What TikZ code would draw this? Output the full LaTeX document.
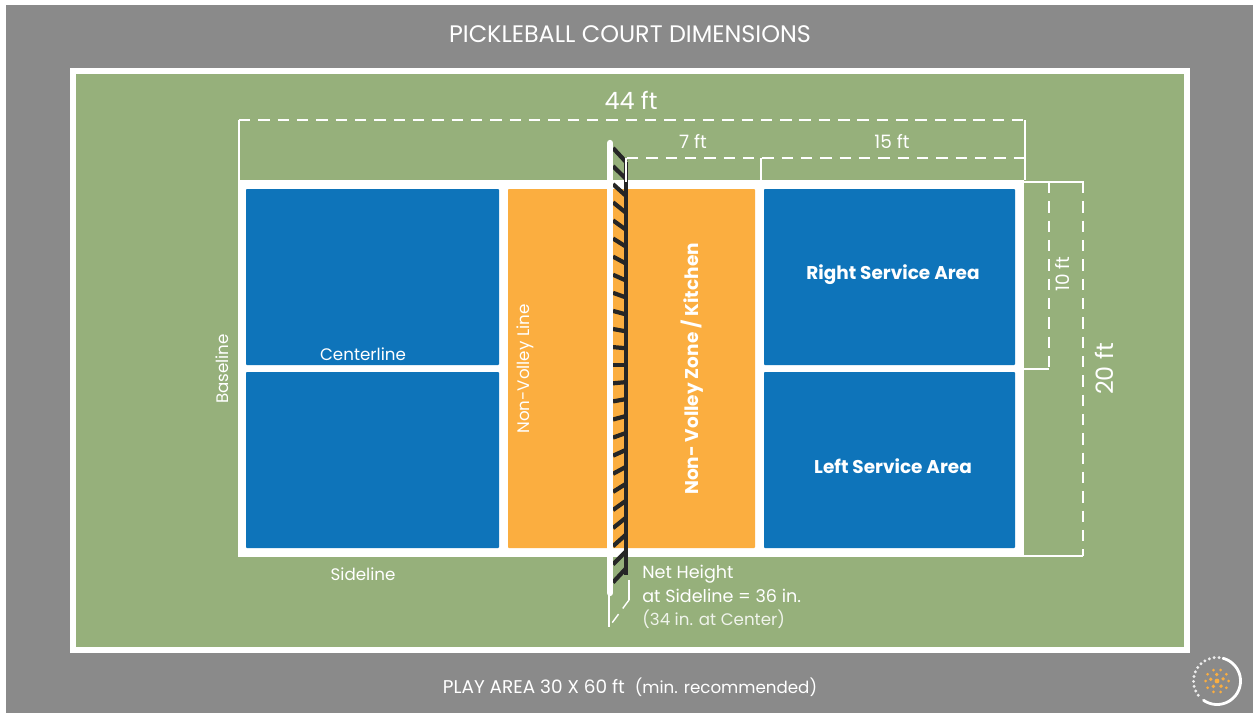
\documentclass[tikz,border=0pt]{standalone}
\usepackage{fontspec}
\setmainfont{Poppins}
\definecolor{playgray}{HTML}{8A8A8A}
\definecolor{courtgreen}{HTML}{96B07B}
\definecolor{servblue}{HTML}{0E74BA}
\definecolor{kitchen}{HTML}{FBAE40}
\definecolor{netblack}{HTML}{262626}
\tikzset{
  x=0.02cm,y=-0.02cm,
  servarea/.style={fill=servblue,rounded corners=0.5pt},
  kitcharea/.style={fill=kitchen,rounded corners=0.5pt},
  dimline/.style={white,line width=0.8pt},
  dimdash/.style={dimline,dash pattern=on 6.5pt off 4.5pt},
  lbl/.style={white,inner sep=0pt,font=\fontsize{#1}{#1}\selectfont},
  lblbold/.style={lbl=#1,font=\fontsize{#1}{#1}\selectfont\bfseries},
  lbl/.default=9.5
}
\begin{document}
\begin{tikzpicture}
  \useasboundingbox (0,0) rectangle (1253,713);
  \fill[playgray] (6,5) rectangle (1253,713);
  \fill[white] (70,68) rectangle (1190,653);
  \fill[courtgreen] (76,74) rectangle (1184,647);
  % court
  \fill[white] (238,180) rectangle (1024,557);
  \fill[servarea] (246,189) rectangle (499,365);
  \fill[servarea] (246,372) rectangle (499,548);
  \fill[kitcharea] (508,189) rectangle (755,548);
  \fill[servarea] (764,189) rectangle (1015,365);
  \fill[servarea] (764,372) rectangle (1015,548);
  % dimensions
  \draw[dimline] (239,180) -- (239,120);
  \draw[dimdash] (239,120) -- (1025,120);
  \draw[dimline] (1025,120) -- (1025,180);
  \draw[dimdash] (627,158) -- (1025,158);
  \draw[dimline] (761,158) -- (761,180);
  \draw[dimline] (1024,182) -- (1084,182);
  \draw[dimdash] (1049,182) -- (1049,369);
  \draw[dimline] (1049,369) -- (1024,369);
  \draw[dimdash] (1083,182) -- (1083,556);
  \draw[dimline] (1083,556) -- (1024,556);
  % net
  \draw[netblack,line width=2.2pt] (626,162) -- (626,575);
  \foreach \i in {0,...,24} {
    \pgfmathsetmacro{\ypos}{148+18.1*\i}
    \pgfmathsetmacro{\yend}{\ypos+14-28*\i/24}
    \draw[netblack,line width=2.4pt] (613,\ypos) -- (626,\yend);
  }
  \draw[dimline] (626,158) -- (626,182);
  \draw[white,line width=3.6pt,line cap=round] (610,143) -- (610,593);
  \draw[dimline] (609,595) -- (609,627);
  \draw[dimline] (629,580) -- (629,600);
  \draw[dimline,dash pattern=on 6pt off 4pt] (629,600) -- (609,627);
  % labels
  \node (title) [lbl=13.6] at (630,34) {PICKLEBALL COURT DIMENSIONS};
  \node (width) [lbl=13.6] at (631,100) {44 ft};
  \node (seven) [lbl=10.5] at (693,141) {7 ft};
  \node (fifteen) [lbl=10.5] at (892,141) {15 ft};
  \node (ten) [lbl=10.5,rotate=90] at (1062,274) {10 ft};
  \node (twenty) [lbl=13.6,rotate=90] at (1104,369) {20 ft};
  \node (baseline) [lbl=9.5,rotate=90] at (222,369) {Baseline};
  \node (centerline) [lbl=9.5] at (363,354) {Centerline};
  \node (sideline) [lbl=9.5] at (363,574) {Sideline};
  \node (nvl) [lbl=9.5,rotate=90] at (525,369) {Non-Volley Line};
  \node (nvz) [lblbold=10.5,rotate=90] at (692,369) {Non- Volley Zone / Kitchen};
  \node (right) [lblbold=10.5] at (893,275) {Right Service Area};
  \node (left) [lblbold=10.5] at (893,466) {Left Service Area};
  \node (netA) [lbl=10,anchor=west] at (642,574) {Net Height};
  \node (netB) [lbl=10,anchor=west] at (642,596) {at Sideline = 36 in.};
  \node (netC) [lbl=9.5,anchor=west,opacity=0.85] at (642,619) {(34 in. at Center)};
  \node (play) [lbl=10.5] at (630,687) {PLAY AREA 30 X 60 ft\ \ {\fontsize{9.5}{9.5}\selectfont(min. recommended)}};
  % logo
  \draw[white,line width=1.6pt,line cap=round] plot[domain=-125:75,samples=40]
    ({1217+23.5*cos(\x)},{681-23.5*sin(\x)});
  \foreach \a in {85,97,...,225}
    \fill[white!85!playgray] ({1217+23.5*cos(\a)},{681-23.5*sin(\a)}) circle (1.6);
  \fill[kitchen] (1217,681) circle (2.4);
  \foreach \a in {20,92,...,308}
    \fill[kitchen] ({1217+6.5*cos(\a)},{681-6.5*sin(\a)}) circle (1.9);
  \foreach \a in {0,36,...,324}
    \fill[kitchen] ({1217+11.5*cos(\a)},{681-11.5*sin(\a)}) circle (1.5);
\end{tikzpicture}
\end{document}
